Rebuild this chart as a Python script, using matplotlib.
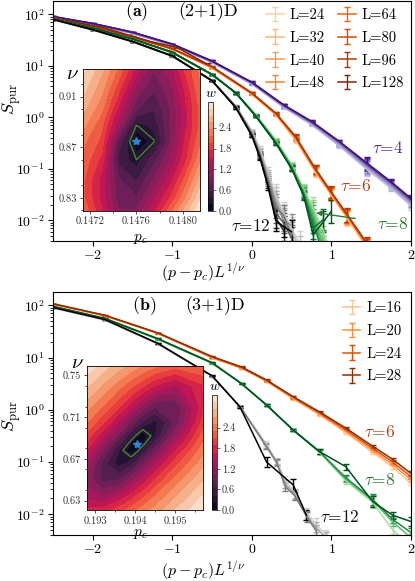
import numpy as np
import matplotlib
matplotlib.use("Agg")
import matplotlib.pyplot as plt
import seaborn as sns
from matplotlib.ticker import LogLocator, NullFormatter, FixedLocator, MultipleLocator

plt.rcParams.update({
    "font.family": "serif",
    "font.serif": ["cmr10"],
    "mathtext.fontset": "cm",
    "axes.formatter.use_mathtext": True,
    "axes.linewidth": 0.8,
})

nan = np.nan

# ---------------- panel (a): (2+1)D, log10 S_pur ----------------
L_A = ["L=24", "L=32", "L=40", "L=48", "L=64", "L=80", "L=96", "L=128"]

X_A4 = [-2.5, -2.0, -1.5, -1.0, -0.5, 0.0, 0.4, 0.75, 1.1, 1.45, 1.75, 2.0]
LOG_A4 = [
    [1.94, 1.80, 1.62, 1.39, 1.06, 0.64, 0.19, -0.15, -0.56, -1.02, -1.38, -1.72],
    [1.94, 1.80, 1.63, 1.40, 1.07, 0.65, 0.20, -0.13, -0.54, -0.99, -1.35, -1.69],
    [1.945, 1.81, 1.63, 1.40, 1.07, 0.66, 0.21, -0.12, -0.52, -0.97, -1.33, -1.66],
    [1.95, 1.81, 1.64, 1.41, 1.08, 0.66, 0.22, -0.11, -0.51, -0.95, -1.31, -1.64],
    [1.95, 1.81, 1.64, 1.41, 1.08, 0.67, 0.23, -0.10, -0.49, -0.93, -1.29, -1.62],
    [1.95, 1.82, 1.65, 1.42, 1.09, 0.67, 0.23, -0.09, -0.48, -0.92, -1.27, -1.60],
    [1.955, 1.82, 1.65, 1.42, 1.09, 0.68, 0.24, -0.08, -0.47, -0.91, -1.26, -1.59],
    [1.955, 1.82, 1.65, 1.42, 1.09, 0.68, 0.24, -0.08, -0.47, -0.89, -1.25, -1.57],
]
ERR_A4 = [0.005, 0.005, 0.008, 0.01, 0.012, 0.015, 0.02, 0.02, 0.03, 0.12, 0.05, 0.07]

X_A6 = [-2.5, -2.0, -1.5, -1.0, -0.5, 0.0, 0.3, 0.55, 0.8, 1.0, 1.2, 1.45, 1.7]
LOG_A6 = [
    [1.92, 1.75, 1.55, 1.31, 0.95, 0.44, 0.04, -0.45, -1.08, -1.52, -1.97, -2.55, -3.10],
    [1.92, 1.75, 1.55, 1.32, 0.96, 0.45, 0.05, -0.43, -1.06, -1.50, -1.95, -2.52, -3.07],
    [1.93, 1.76, 1.56, 1.32, 0.96, 0.46, 0.06, -0.42, -1.04, -1.49, -1.93, -2.50, -3.05],
    [1.93, 1.76, 1.56, 1.33, 0.97, 0.46, 0.07, -0.40, -1.03, -1.48, -1.92, -2.48, -3.03],
    [1.93, 1.76, 1.56, 1.33, 0.97, 0.47, 0.07, -0.39, -1.02, -1.47, -1.91, -2.47, -3.02],
    [1.93, 1.76, 1.56, 1.33, 0.98, 0.47, 0.08, -0.38, -1.01, -1.46, -1.90, -2.46, -3.01],
    [1.93, 1.76, 1.56, 1.33, 0.98, 0.47, 0.08, -0.37, -1.00, -1.45, -1.89, -2.45, -3.00],
]
ERR_A6 = [0.005, 0.005, 0.005, 0.008, 0.01, 0.015, 0.02, 0.04, 0.08, 0.11, 0.13, 0.12, 0.15]
X_A6_128 = [-2.5, -1.87, -1.24, -0.95, -0.57]
LOG_A6_128 = [1.93, 1.74, 1.455, 1.36, 1.04]
ERR_A6_128 = [0.005, 0.005, 0.008, 0.01, 0.012]

X_A8 = [-2.5, -2.0, -1.5, -1.0, -0.5, -0.2, 0.05, 0.3, 0.5, 0.65, 0.77, 0.9, 1.0]
LOG_A8 = [
    [1.90, 1.72, 1.51, 1.25, 0.82, 0.47, 0.05, -0.44, -0.92, -1.38, -1.75, -2.20, -2.70],
    [1.90, 1.72, 1.51, 1.25, 0.82, 0.47, 0.04, -0.45, -0.94, -1.40, -1.80, -2.30, -2.80],
    [1.91, 1.73, 1.52, 1.26, 0.83, 0.47, 0.04, -0.46, -0.95, -1.42, -1.85, -2.40, -2.90],
    [1.91, 1.73, 1.52, 1.26, 0.83, 0.47, 0.03, -0.47, -0.96, -1.44, -1.90, -2.50, nan],
    [1.91, 1.73, 1.52, 1.26, 0.83, 0.47, 0.03, -0.48, -0.97, -1.46, -1.98, -2.60, nan],
    [1.91, 1.73, 1.52, 1.26, 0.83, 0.47, 0.02, -0.49, -0.98, -1.48, -2.05, -2.70, nan],
    [1.91, 1.73, 1.52, 1.26, 0.83, 0.47, 0.02, -0.50, -0.99, -1.50, -2.15, -1.98, nan],
    [1.91, 1.73, 1.52, 1.26, 0.83, 0.47, 0.02, -0.50, -1.00, -1.52, -2.28, -2.02, -1.82],
]
ERR_A8 = [0.005, 0.005, 0.005, 0.008, 0.01, 0.015, 0.02, 0.03, 0.05, 0.08, 0.2, 0.2, 0.22]

X_A12 = [-2.5, -2.0, -1.5, -1.0, -0.5, -0.2, 0.0, 0.1, 0.2, 0.3, 0.4, 0.5, 0.6]
LOG_A12 = [
    [1.89, 1.69, 1.46, 1.18, 0.70, 0.22, -0.26, -0.60, -1.05, -1.50, -1.85, -2.15, -2.45],
    [1.89, 1.69, 1.46, 1.18, 0.70, 0.21, -0.28, -0.64, -1.10, -1.56, -1.90, -2.20, -2.55],
    [1.90, 1.70, 1.47, 1.19, 0.71, 0.21, -0.30, -0.67, -1.14, -1.62, -1.95, -2.25, nan],
    [1.90, 1.70, 1.47, 1.19, 0.71, 0.20, -0.31, -0.70, -1.18, -1.68, -2.00, -2.10, nan],
    [1.90, 1.70, 1.47, 1.19, 0.71, 0.20, -0.33, -0.72, -1.22, -1.75, -1.90, -2.30, nan],
    [1.90, 1.70, 1.47, 1.19, 0.71, 0.19, -0.34, -0.74, -1.26, -1.85, -2.05, -2.35, nan],
    [1.90, 1.70, 1.47, 1.19, 0.71, 0.19, -0.35, -0.76, -1.30, -1.95, -2.20, nan, nan],
    [1.90, 1.70, 1.47, 1.19, 0.71, 0.18, -0.36, -0.78, -1.33, -2.00, -2.12, -2.22, nan],
]
ERR_A12 = [0.005, 0.005, 0.005, 0.01, 0.01, 0.02, 0.03, 0.05, 0.08, 0.2, 0.2, 0.22, 0.25]

# ---------------- panel (b): (3+1)D ----------------
L_B = ["L=16", "L=20", "L=24", "L=28"]

X_B6 = [-2.5, -1.85, -1.18, -0.5, -0.13, 0.185, 0.52, 0.85, 1.18, 1.52, 1.77, 2.0]
LOG_B6 = [
    [2.02, 1.80, 1.46, 0.99, 0.79, 0.54, 0.21, -0.10, -0.44, -0.82, -1.10, -1.41],
    [2.02, 1.80, 1.46, 1.00, 0.80, 0.55, 0.22, -0.08, -0.41, -0.78, -1.05, -1.34],
    [2.03, 1.81, 1.47, 1.01, 0.81, 0.56, 0.24, -0.06, -0.38, -0.74, -1.00, -1.28],
    [2.03, 1.81, 1.47, 1.02, 0.82, 0.57, 0.25, -0.04, -0.35, -0.70, -0.95, -1.22],
]
ERR_B6 = [0.005, 0.005, 0.005, 0.01, 0.01, 0.01, 0.015, 0.02, 0.025, 0.03, 0.035, 0.04]

X_B8 = [-2.5, -1.85, -1.18, -0.5, -0.13, 0.185, 0.52, 0.85, 1.18, 1.52, 1.77, 2.0]
LOG_B8 = [
    [1.97, 1.74, 1.35, 0.89, 0.50, 0.09, -0.39, -0.82, -1.36, -1.78, -2.30, -2.60],
    [1.97, 1.74, 1.35, 0.89, 0.50, 0.09, -0.39, -0.81, -1.33, -1.74, -2.15, -2.45],
    [1.98, 1.75, 1.36, 0.90, 0.50, 0.09, -0.39, -0.80, -1.30, -1.72, -2.10, -2.35],
    [1.98, 1.75, 1.36, 0.90, 0.50, 0.09, -0.39, -0.80, -1.09, -1.76, -2.02, -2.14],
]
ERR_B8 = [0.005, 0.005, 0.008, 0.01, 0.015, 0.015, 0.02, 0.04, 0.06, 0.1, 0.07, 0.08]

X_B12 = [-2.5, -1.85, -1.18, -0.5, -0.15, 0.18, 0.31, 0.42, 0.54, 0.69, 0.8, 0.93]
LOG_B12 = [
    [1.95, 1.72, 1.26, 0.64, 0.07, -0.65, -0.98, -1.35, -1.60, -1.98, -2.18, -2.40],
    [1.95, 1.72, 1.26, 0.64, 0.06, -0.68, -1.02, -1.42, -1.62, -2.02, -2.25, -2.45],
    [1.96, 1.73, 1.27, 0.65, 0.06, -0.70, -1.00, -1.47, -1.65, -2.05, -2.30, nan],
]
ERR_B12 = [0.005, 0.005, 0.01, 0.01, 0.02, 0.05, 0.06, 0.08, 0.08, 0.09, 0.1, 0.1]
X_B12_28 = [-2.5, -1.85, -1.18, -0.5, -0.15, 0.185, 0.52, 0.685]
LOG_B12_28 = [1.96, 1.73, 1.27, 0.65, 0.055, -1.00, -1.44, -2.02]
ERR_B12_28 = [0.005, 0.005, 0.01, 0.01, 0.02, 0.1, 0.12, 0.1]

# ---------------- inset (a): cost function w(p_c, nu), rows = NU_A ----------------
PC_A = [0.14714, 0.14730, 0.14745, 0.14760, 0.14775, 0.14790, 0.14802, 0.14815]
NU_A = [0.820, 0.830, 0.845, 0.860, 0.8745, 0.887, 0.900, 0.915, 0.932]
W_A = [
    [2.1, 1.6, 1.0, 1.0, 1.5, 2.1, 2.6, 3.1],
    [2.0, 1.5, 0.85, 0.8, 1.3, 1.8, 2.3, 2.9],
    [2.0, 1.5, 0.8, 0.55, 1.0, 1.5, 2.0, 2.6],
    [2.1, 1.7, 0.5, 0.30, 0.7, 1.2, 1.7, 2.3],
    [2.2, 1.9, 0.7, 0.03, 0.28, 1.0, 1.6, 2.1],
    [2.4, 2.0, 1.2, 0.29, 0.45, 1.0, 1.5, 2.0],
    [2.6, 2.2, 1.5, 0.8, 0.6, 1.0, 1.5, 2.0],
    [2.8, 2.4, 1.8, 1.1, 0.8, 1.1, 1.6, 2.1],
    [3.0, 2.6, 2.1, 1.5, 1.0, 1.3, 1.8, 2.2],
]
BEST_A = (0.14760, 0.8745)

# ---------------- inset (b), rows = NU_B ----------------
PC_B = [0.1928, 0.1932, 0.1936, 0.1939, 0.19404, 0.1942, 0.1945, 0.1950, 0.1957]
NU_B = [0.621, 0.634, 0.650, 0.665, 0.678, 0.6847, 0.692, 0.705, 0.720, 0.740, 0.759]
W_B = [
    [1.75, 1.78, 2.00, 2.19, 2.29, 2.40, 2.59, 2.92, 3.34],
    [1.37, 1.26, 1.50, 1.77, 1.92, 2.05, 2.31, 2.68, 3.16],
    [1.17, 0.77, 0.84, 1.18, 1.35, 1.55, 1.90, 2.36, 2.89],
    [1.36, 0.72, 0.32, 0.55, 0.76, 1.01, 1.43, 2.02, 2.64],
    [1.66, 1.07, 0.41, 0.07, 0.23, 0.47, 0.96, 1.66, 2.43],
    [1.84, 1.29, 0.66, 0.19, 0.00, 0.22, 0.69, 1.46, 2.31],
    [2.01, 1.52, 0.96, 0.47, 0.25, 0.08, 0.41, 1.23, 2.19],
    [2.31, 1.92, 1.42, 1.00, 0.79, 0.55, 0.34, 0.89, 1.97],
    [2.59, 2.28, 1.90, 1.55, 1.38, 1.18, 0.85, 0.86, 1.79],
    [2.95, 2.68, 2.39, 2.16, 2.05, 1.92, 1.67, 1.42, 1.85],
    [3.29, 3.04, 2.81, 2.64, 2.58, 2.50, 2.35, 2.17, 2.31],
]
BEST_B = (0.19404, 0.6847)

# ---------------- drawing ----------------
FW, FH = 415, 581
def rect(x0, y0, x1, y1):
    return [x0 / FW, 1 - y1 / FH, (x1 - x0) / FW, (y1 - y0) / FH]

fig = plt.figure(figsize=(FW / 100, FH / 100), dpi=100)
axA = fig.add_axes(rect(53, 1, 411, 241))
axB = fig.add_axes(rect(53, 292, 411, 535))


def family(ax, x, logys, err, colors, labels=None, lw=1.1):
    handles = []
    for i, ly in enumerate(logys):
        ly = np.asarray(ly, float)
        e = np.asarray(err, float)
        y = 10 ** ly
        lo = y - 10 ** (ly - e)
        hi = 10 ** (ly + e) - y
        h = ax.errorbar(x, y, yerr=[lo, hi], color=colors[i], lw=lw, elinewidth=1.0,
                        capsize=2, capthick=1.0,
                        label=(labels[i] if labels else None))
        handles.append(h)
    return handles


def shades(name, vals):
    cm = plt.get_cmap(name)
    return [cm(v) for v in vals]

# panel a
family(axA, X_A4, LOG_A4, ERR_A4, shades("Purples", [0.35, 0.42, 0.5, 0.58, 0.66, 0.75, 0.85, 0.95]))
hA = family(axA, X_A6, LOG_A6, ERR_A6,
            shades("Oranges", [0.25, 0.35, 0.45, 0.55, 0.65, 0.75, 0.85]), labels=L_A[:7])
hA += family(axA, X_A6_128, [LOG_A6_128], ERR_A6_128, shades("Oranges", [1.0]), labels=L_A[7:])
family(axA, X_A8, LOG_A8, ERR_A8, shades("Greens", [0.35, 0.42, 0.5, 0.58, 0.66, 0.75, 0.85, 0.95]))
family(axA, X_A12, LOG_A12, ERR_A12, shades("Greys", [0.3, 0.38, 0.46, 0.54, 0.62, 0.72, 0.85, 1.0]))

# panel b
hB = family(axB, X_B6, LOG_B6, ERR_B6, shades("Oranges", [0.3, 0.5, 0.72, 0.95]), labels=L_B)
family(axB, X_B8, LOG_B8, ERR_B8, shades("Greens", [0.35, 0.55, 0.75, 0.95]))
family(axB, X_B12, LOG_B12, ERR_B12, shades("Greys", [0.3, 0.45, 0.6]))
family(axB, X_B12_28, [LOG_B12_28], ERR_B12_28, shades("Greys", [1.0]))

for ax in (axA, axB):
    ax.set_yscale("log")
    ax.set_xlim(-2.5, 2.0)
    ax.set_ylim(4e-3, 180)
    ax.xaxis.set_major_locator(FixedLocator([-2, -1, 0, 1, 2]))
    ax.yaxis.set_major_locator(LogLocator(base=10, numticks=10))
    ax.yaxis.set_minor_locator(LogLocator(base=10, subs=np.arange(2, 10), numticks=20))
    ax.yaxis.set_minor_formatter(NullFormatter())
    ax.tick_params(labelsize=10, length=3.5, width=0.8, pad=2.5)
    ax.tick_params(which="minor", length=2, width=0.6)
    ax.set_ylabel(r"$S_{\rm pur}$", fontsize=13)
    ax.set_xlabel(r"$(p-p_c)L^{1/\nu}$", fontsize=11.5)

axA.yaxis.set_label_coords(-0.085, 0.59)
axB.yaxis.set_label_coords(-0.085, 0.49)
axA.xaxis.set_label_coords(0.42, -0.086)
axB.xaxis.set_label_coords(0.42, -0.098)

PURPLE = "#5b2c9f"; BROWN = "#b4441a"; GREEN = "#2e7a34"; BLACK = "#111111"
axA.text(1.70, 10 ** -0.60, r"$\tau$=4", color=PURPLE, fontsize=12.5, ha="center", va="center")
axA.text(1.30, 10 ** -1.33, r"$\tau$=6", color=BROWN, fontsize=12.5, ha="center", va="center")
axA.annotate(r"$\tau$=8", xy=(0.81, 10 ** -1.85), xytext=(1.77, 10 ** -2.07), color=GREEN,
             fontsize=12.5, ha="center", va="center",
             arrowprops=dict(arrowstyle="-|>", color=GREEN, lw=1.0, shrinkA=14, shrinkB=0,
                             mutation_scale=7))
axA.text(-0.01, 10 ** -2.10, r"$\tau$=12", color=BLACK, fontsize=12.5, ha="center", va="center")

axB.text(1.61, 10 ** -0.42, r"$\tau$=6", color=BROWN, fontsize=12.5, ha="center", va="center")
axB.text(1.61, 10 ** -1.35, r"$\tau$=8", color=GREEN, fontsize=12.5, ha="center", va="center")
axB.text(1.10, 10 ** -2.05, r"$\tau$=12", color=BLACK, fontsize=12.5, ha="center", va="center")

axA.text(-1.45, 10 ** 2.04, r"$\mathbf{(a)}$", fontsize=13, ha="center", va="center")
axA.text(-0.93, 10 ** 2.04, "(2+1)D", fontsize=13, ha="left", va="center")
axB.text(-1.36, 10 ** 2.0, r"$\mathbf{(b)}$", fontsize=13, ha="center", va="center")
axB.text(-0.84, 10 ** 2.0, "(3+1)D", fontsize=13, ha="left", va="center")

axA.legend(handles=hA, labels=L_A, ncol=2, loc="upper right", frameon=False, fontsize=10.5,
           handlelength=1.2, handletextpad=0.4, columnspacing=0.9, labelspacing=0.62,
           borderaxespad=0.1)
axB.legend(handles=hB, labels=L_B, ncol=1, loc="upper right", frameon=False, fontsize=10.5,
           handlelength=1.2, handletextpad=0.4, labelspacing=0.62, borderaxespad=0.25)

# insets
rocket = sns.color_palette("rocket", as_cmap=True)


def inset(ibox, cbox, pcs, nus, w, best, vmax, xticks, xlabels, yticks, ylabels, xminor, yminor,
          nu_xy, pc_xy):
    ai = fig.add_axes(rect(*ibox))
    levels = np.linspace(0, vmax, 17)
    cs = ai.contourf(pcs, nus, np.clip(np.asarray(w), 0, vmax - 1e-6), levels=levels, cmap=rocket)
    ai.contour(pcs, nus, np.asarray(w), levels=[0.3], colors=["#3f8a2c"], linewidths=1.0)
    ai.plot([best[0]], [best[1]], marker="*", color="#2f86d0", ms=6, mec="#2f86d0")
    ai.set_xlim(pcs[0], pcs[-1]); ai.set_ylim(nus[0], nus[-1])
    ai.set_xticks(xticks); ai.set_xticklabels(xlabels)
    ai.set_yticks(yticks); ai.set_yticklabels(ylabels)
    ai.xaxis.set_minor_locator(MultipleLocator(xminor))
    ai.yaxis.set_minor_locator(MultipleLocator(yminor))
    ai.tick_params(labelsize=7.5, length=2.5, width=0.6, pad=2, colors="#333333")
    ai.tick_params(which="minor", length=1.5, width=0.5)
    ai.text(nu_xy[0], nu_xy[1], r"$\nu$", transform=ai.transAxes, fontsize=15, ha="center", va="center")
    ai.text(pc_xy[0], pc_xy[1], r"$p_c$", transform=ai.transAxes, fontsize=11, ha="center", va="center")
    cax = fig.add_axes(rect(*cbox))
    cb = fig.colorbar(cs, cax=cax, ticks=[0, 0.6, 1.2, 1.8, 2.4])
    cb.ax.set_yticklabels(["0.0", "0.6", "1.2", "1.8", "2.4"])
    cb.ax.tick_params(labelsize=7.5, length=2, width=0.5, pad=1.5, colors="#333333")
    cb.outline.set_linewidth(0.5)
    cax.text(0.5, 1.02, r"$w$", transform=cax.transAxes, fontsize=10, ha="center", va="bottom")
    for s in ai.spines.values():
        s.set_linewidth(0.6)
    return ai

inset((83.3, 68.7, 200, 210.5), (207.7, 102, 213.3, 211), PC_A, NU_A, W_A, BEST_A, 3.14,
      [0.1472, 0.1476, 0.1480], ["0.1472", "0.1476", "0.1480"],
      [0.83, 0.87, 0.91], ["0.83", "0.87", "0.91"], 0.0002, 0.02,
      (-0.09, 0.96), (0.49, -0.2))
inset((87, 366, 203, 510), (211.5, 395, 217.2, 510), PC_B, NU_B, W_B, BEST_B, 3.35,
      [0.193, 0.194, 0.195], ["0.193", "0.194", "0.195"],
      [0.63, 0.67, 0.71, 0.75], ["0.63", "0.67", "0.71", "0.75"], 0.0005, 0.02,
      (-0.08, 1.02), (0.46, -0.17))

fig.savefig("out.png", dpi=100)
